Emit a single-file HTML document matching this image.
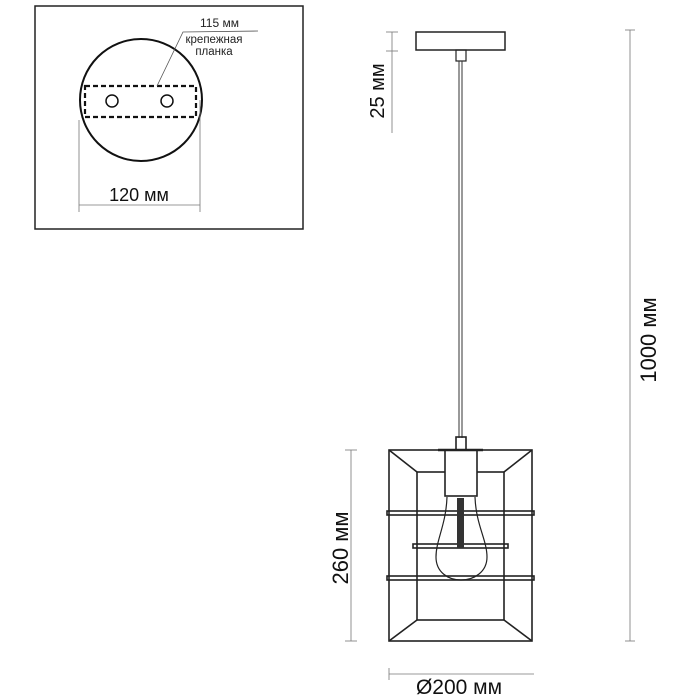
<!DOCTYPE html>
<html><head><meta charset="utf-8"><style>body{margin:0;background:#fff}svg{display:block}</style></head><body>
<svg width="700" height="700" viewBox="0 0 700 700" xmlns="http://www.w3.org/2000/svg" font-family="Liberation Sans, DejaVu Sans, sans-serif">
<rect x="35" y="6" width="268" height="223" fill="none" stroke="#222" stroke-width="1.5"/>
<circle cx="141" cy="100" r="61" fill="none" stroke="#111" stroke-width="2"/>
<rect x="85" y="86" width="111" height="31" fill="none" stroke="#111" stroke-width="2.2" stroke-dasharray="5,3"/>
<circle cx="112" cy="101" r="6" fill="none" stroke="#111" stroke-width="1.5"/>
<circle cx="167" cy="101" r="6" fill="none" stroke="#111" stroke-width="1.5"/>
<polyline points="157,86 183,32 258,31" fill="none" stroke="#555" stroke-width="0.8"/>
<text x="200" y="27" font-size="12" fill="#222">115 мм</text>
<text x="214" y="43" font-size="11.5" fill="#222" text-anchor="middle">крепежная</text>
<text x="214" y="55" font-size="11.5" fill="#222" text-anchor="middle">планка</text>
<line x1="79" y1="120" x2="79" y2="212" stroke="#777" stroke-width="0.8"/>
<line x1="200" y1="100" x2="200" y2="212" stroke="#777" stroke-width="0.8"/>
<line x1="79" y1="205" x2="200" y2="205" stroke="#777" stroke-width="0.8"/>
<text x="139" y="201" font-size="18" fill="#111" text-anchor="middle">120 мм</text>

<rect x="416" y="32" width="89" height="18" fill="#fff" stroke="#222" stroke-width="1.5"/>
<rect x="456" y="50" width="10" height="11" fill="none" stroke="#222" stroke-width="1.2"/>
<line x1="459" y1="61" x2="459" y2="438" stroke="#333" stroke-width="1"/>
<line x1="462" y1="61" x2="462" y2="438" stroke="#333" stroke-width="1"/>
<line x1="392" y1="32" x2="392" y2="133" stroke="#777" stroke-width="0.8"/>
<line x1="386" y1="32" x2="398" y2="32" stroke="#777" stroke-width="0.8"/>
<line x1="386" y1="51" x2="398" y2="51" stroke="#777" stroke-width="0.8"/>
<text transform="translate(384,91) rotate(-90)" font-size="20" fill="#111" text-anchor="middle">25 мм</text>

<line x1="630" y1="30" x2="630" y2="641" stroke="#777" stroke-width="0.8"/>
<line x1="625" y1="30" x2="635" y2="30" stroke="#777" stroke-width="0.8"/>
<line x1="625" y1="641" x2="635" y2="641" stroke="#777" stroke-width="0.8"/>
<text transform="translate(656,340) rotate(-90)" font-size="22" fill="#111" text-anchor="middle">1000 мм</text>

<g fill="none" stroke="#222" stroke-width="1.6">
<rect x="456" y="437" width="10" height="13"/>
<rect x="389" y="450" width="143" height="191"/>
<rect x="417" y="472" width="87" height="148"/>
<line x1="389" y1="450" x2="417" y2="472"/><line x1="532" y1="450" x2="504" y2="472"/>
<line x1="389" y1="641" x2="417" y2="620"/><line x1="532" y1="641" x2="504" y2="620"/>
<rect x="387" y="511" width="147" height="4"/>
<rect x="413" y="544" width="95" height="4"/>
<rect x="387" y="576" width="147" height="4"/>
<rect x="445" y="450" width="32" height="46" fill="#fff"/>
<line x1="438" y1="450" x2="483" y2="450" stroke-width="2.5"/>
<path d="M447,497 C446,525 436,540 436,557 C436,572 448,580 461,580 C474,580 487,572 487,557 C487,540 476,525 475,497" stroke-width="1.2"/>
</g>
<rect x="457" y="498" width="7" height="50" fill="#333"/>
<line x1="351" y1="450" x2="351" y2="641" stroke="#777" stroke-width="0.8"/>
<line x1="345" y1="450" x2="357" y2="450" stroke="#777" stroke-width="0.8"/>
<line x1="345" y1="641" x2="357" y2="641" stroke="#777" stroke-width="0.8"/>
<text transform="translate(348,548) rotate(-90)" font-size="22" fill="#111" text-anchor="middle">260 мм</text>
<line x1="389" y1="674" x2="534" y2="674" stroke="#777" stroke-width="0.8"/>
<line x1="389" y1="668" x2="389" y2="680" stroke="#777" stroke-width="0.8"/>
<text x="459" y="694" font-size="21" fill="#111" text-anchor="middle">Ø200 мм</text>
</svg>
</body></html>
